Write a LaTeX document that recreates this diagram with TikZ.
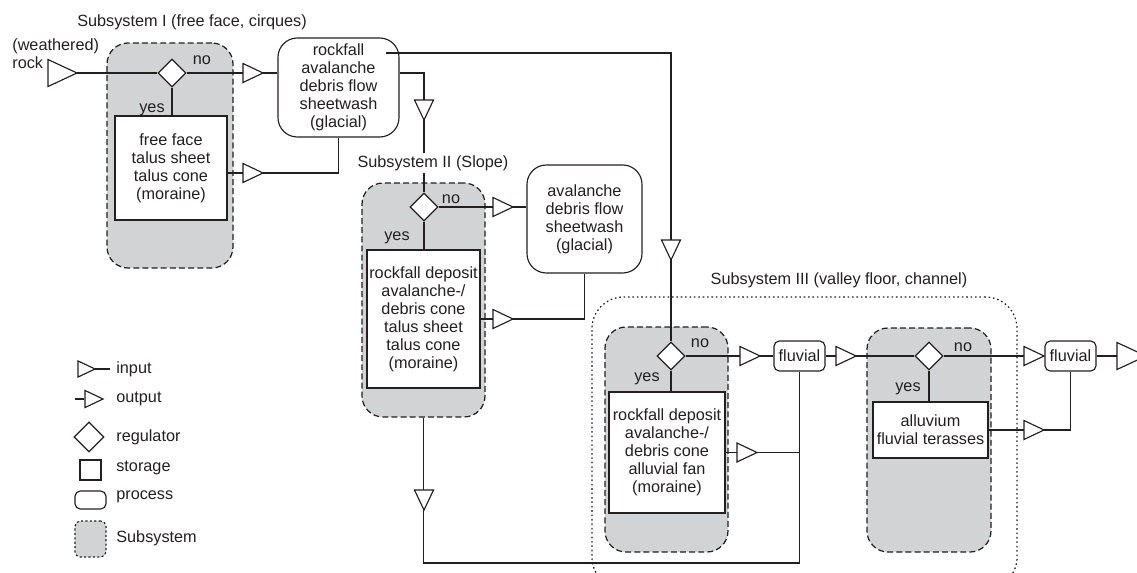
\documentclass[tikz,border=0pt]{standalone}
\usepackage{fontspec}
\setmainfont{Liberation Sans}
\usetikzlibrary{shapes.geometric}
\definecolor{subfill}{RGB}{210,211,213}
\definecolor{ink}{RGB}{35,31,32}

\tikzset{
  px/.style 2 args={minimum width=#1*0.02cm, minimum height=#2*0.02cm},
  subsys/.style={draw=ink, fill=subfill, line width=0.7pt,
    dash pattern=on 3.4pt off 1.8pt, rounded corners=12pt, inner sep=0},
  outerbox/.style={draw=ink, line width=0.7pt,
    dash pattern=on 0.9pt off 1.6pt, rounded corners=18pt, inner sep=0},
  storebox/.style={draw=ink, fill=white, line width=0.65pt, inner sep=0, align=center, text=ink},
  procbox/.style={draw=ink, fill=white, line width=0.65pt, inner sep=0, align=center,
    rounded corners=11pt, text=ink},
  regul/.style={draw=ink, fill=white, line width=0.65pt, diamond, inner sep=0,
    minimum size=28*0.02cm},
  lbl/.style={inner sep=0, text=ink},
  flow/.style={draw=ink, line width=0.65pt},
  tri/.pic={\filldraw[fill=white, draw=ink, line width=0.65pt]
    (0,0) -- (-20,-9.5) -- (-20,9.5) -- cycle;},
  bigtri/.pic={\filldraw[fill=white, draw=ink, line width=0.65pt]
    (0,0) -- (-29,-13.5) -- (-29,13.5) -- cycle;},
}

\begin{document}
\begin{tikzpicture}[x=0.02cm, y=-0.02cm, font=\fontsize{9.25}{10.2}\selectfont]
\useasboundingbox (0,0) rectangle (1137,572);

% subsystems
\node[subsys, px={126}{225}] (sI) at (170,155.5) {};
\node[subsys, px={123}{234}] (sII) at (423.5,300) {};
\node[outerbox, px={425}{292}] (sIII) at (804.5,443) {};
\node[subsys, px={123}{225}] (sA) at (666.5,439.5) {};
\node[subsys, px={124}{224}] (sB) at (929,440) {};

% storages
\node[storebox, px={112}{104}] (stI) at (171,168) {free face\\talus sheet\\talus cone\\(moraine)};
\node[storebox, px={113}{138}] (stII) at (423.5,319) {rockfall deposit\\avalanche-/\\debris cone\\talus sheet\\talus cone\\(moraine)};
\node[storebox, px={116}{121}] (stA) at (667,452.5) {rockfall deposit\\avalanche-/\\debris cone\\alluvial fan\\(moraine)};
\node[storebox, px={115}{56}] (stB) at (930.5,430) {alluvium\\fluvial terasses};

% regulators
\node[regul] (dI) at (172,73) {};
\node[regul] (dII) at (424,207) {};
\node[regul] (dA) at (671,356) {};
\node[regul] (dB) at (929,356) {};

% processes
\node[procbox, px={121}{99}] (rf) at (338.5,87.5) {rockfall\\avalanche\\debris flow\\sheetwash\\(glacial)};
\node[procbox, px={115}{108}] (prII) at (584.5,219) {avalanche\\debris flow\\sheetwash\\(glacial)};
\node[procbox, rounded corners=3pt, px={51}{30}] (fl1) at (799.5,356) {fluvial};
\node[procbox, rounded corners=3pt, px={51}{30}] (fl2) at (1070.5,356) {fluvial};

% helper points
\coordinate (inTip) at (77,73);
\coordinate (outBase) at (1117,356);
\coordinate (rfout) at (386,53);
\coordinate (ybot) at (0,563);
\path (stI.east) ++(0,5) coordinate (jI);

% flows
\draw[flow] (inTip) -- (dI.west);
\draw[flow] (dI.east) -- (dI.east -| rf.west);
\draw[flow] (dI.south) -- (dI.south |- stI.north);
\draw[flow] (rf.south) |- (jI);
\draw[flow] (rf.east |- dI) -| (dII.north);
\draw[flow] (rfout) -| (dA.north);
\draw[flow] (dII.south) -- (dII.south |- stII.north);
\draw[flow] (dII.east) -- (dII.east -| prII.west);
\draw[flow] (prII.south) |- (stII.east);
\draw[flow] (sII.south) -- (sII.south |- ybot) -| (fl1.south);
\draw[flow] (stA.east) -- (stA.east -| fl1.south);
\draw[flow] (dA.east) -- (fl1.west);
\draw[flow] (dA.south) -- (dA.south |- stA.north);
\draw[flow] (fl1.east) -- (dB.west);
\draw[flow] (dB.east) -- (fl2.west);
\draw[flow] (dB.south) -- (dB.south |- stB.north);
\draw[flow] (stB.east) -| (fl2.south);
\draw[flow] (fl2.east) -- (outBase);

% flow markers
\pic at (77,73) {bigtri};
\pic at (263,73) {tri};
\pic at (263,173) {tri};
\pic[rotate=-90] at (424,120) {tri};
\pic[rotate=-90] at (671,260) {tri};
\pic at (513,207) {tri};
\pic at (513,319) {tri};
\pic[rotate=-90] at (424,510) {tri};
\pic at (760,356) {tri};
\pic at (757,452.5) {tri};
\pic at (856,356) {tri};
\pic at (1044,356) {tri};
\pic at (1044,430) {tri};
\pic at (1146,356) {bigtri};

% titles and labels
\node[lbl] (tI) at (192,22) {Subsystem I (free face, cirques)};
\node[lbl, fill=white, inner sep=1.2pt] (tII) at (433,163) {Subsystem II (Slope)};
\node[lbl] (tIII) at (839,280) {Subsystem III (valley floor, channel)};
\node[lbl, anchor=west, align=left] (src) at (12,54) {(weathered)\\rock};

\node[lbl] (noI) at (202,60) {no};
\node[lbl] (noII) at (451,199) {no};
\node[lbl] (noA) at (700,343) {no};
\node[lbl] (noB) at (963,347) {no};
\node[lbl] (yesI) at (152,110) {yes};
\node[lbl] (yesII) at (397,238) {yes};
\node[lbl] (yesA) at (647,379) {yes};
\node[lbl] (yesB) at (908,389) {yes};

% legend
\coordinate (lgInTip) at (95,369);
\coordinate (lgInEnd) at (110,369);
\draw[flow] (lgInTip) -- (lgInEnd);
\pic[scale=0.85] at (95,369) {tri};
\node[lbl, anchor=west] (lgIn) at (116,369) {input};

\coordinate (lgOutA) at (75,399);
\coordinate (lgOutB) at (84,399);
\draw[flow] (lgOutA) -- (lgOutB);
\pic[scale=0.9] at (103,399) {tri};
\node[lbl, anchor=west] (lgOut) at (116,399) {output};

\node[regul, minimum size=30*0.02cm] (lgReg) at (89,437) {};
\node[lbl, anchor=west] (lgRegT) at (116,437) {regulator};

\node[storebox, px={21}{20}] (lgSto) at (90.5,470) {};
\node[lbl, anchor=west] (lgStoT) at (116,468) {storage};

\node[procbox, rounded corners=3pt, px={31}{18}] (lgPro) at (90.5,500) {};
\node[lbl, anchor=west] (lgProT) at (116,497) {process};

\node[draw=ink, fill=subfill, line width=0.65pt, dash pattern=on 1.2pt off 1.3pt,
  rounded corners=3pt, inner sep=0, px={31}{36}] (lgSub) at (90.5,539) {};
\node[lbl, anchor=west] (lgSubT) at (116,538) {Subsystem};
\end{tikzpicture}
\end{document}
